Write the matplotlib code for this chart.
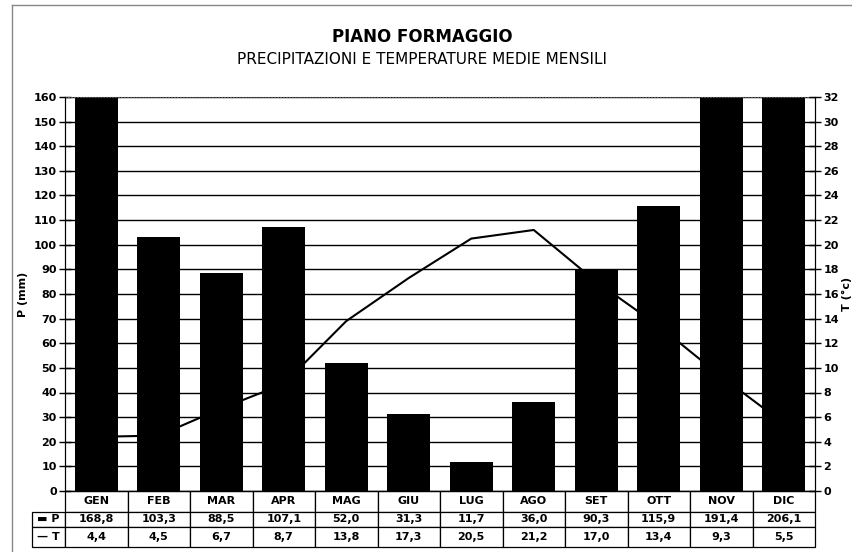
import matplotlib
matplotlib.use("Agg")
import matplotlib.pyplot as plt
from matplotlib.lines import Line2D

# Dati mensili (Piano Formaggio)
mesi = ["GEN", "FEB", "MAR", "APR", "MAG", "GIU", "LUG", "AGO", "SET", "OTT", "NOV", "DIC"]
prec = [168.8, 103.3, 88.5, 107.1, 52.0, 31.3, 11.7, 36.0, 90.3, 115.9, 191.4, 206.1]
temp = [4.4, 4.5, 6.7, 8.7, 13.8, 17.3, 20.5, 21.2, 17.0, 13.4, 9.3, 5.5]
p_ticks = list(range(0, 161, 10))
t_ticks = list(range(0, 33, 2))


def virgola(v):
    return f"{v:.1f}".replace(".", ",")


W, H = 852, 552
fig = plt.figure(figsize=(W / 100, H / 100), dpi=100)
plt.rcParams["font.family"] = ["DejaVu Sans"]

# area del grafico in pixel: x 65-815, y 97-491
ax = fig.add_axes([65 / W, (H - 491) / H, 750 / W, 394 / H])
x = list(range(len(mesi)))
ax.bar(x, prec, width=0.69, color="black", zorder=2)
ax.set_xlim(-0.5, len(mesi) - 0.5)
ax.set_ylim(0, 160)
ax.set_yticks(p_ticks)
ax.set_yticklabels([str(v) for v in p_ticks], fontsize=8, fontweight="bold")
ax.set_xticks([])
ax.tick_params(axis="y", direction="inout", length=8, width=1, pad=2)
ax.yaxis.grid(True, color="black", linewidth=1)
ax.set_axisbelow(True)
ax.set_ylabel("P (mm)", fontsize=8, fontweight="bold", labelpad=4)
ax.spines["top"].set_linestyle(":")
ax.spines["top"].set_color("#555555")

ax2 = ax.twinx()
ax2.plot(x, temp, color="black", linewidth=1.5, zorder=3)
ax2.set_ylim(0, 32)
ax2.set_yticks(t_ticks)
ax2.set_yticklabels([str(v) for v in t_ticks], fontsize=8, fontweight="bold")
ax2.tick_params(axis="y", direction="inout", length=8, width=1, pad=2)
ax2.set_ylabel("T (°c)", fontsize=8, fontweight="bold", labelpad=2)
ax2.spines["top"].set_visible(False)

# tabella dei valori sotto il grafico
righe = [["\u25ac P"] + [virgola(v) for v in prec],
         ["\u2014 T"] + [virgola(v) for v in temp]]
larg = [33 / 750] + [1 / 12] * 12
tbl = ax.table(cellText=righe, colLabels=[""] + mesi, colWidths=larg,
               cellLoc="center", loc="bottom",
               bbox=[-33 / 750, -56 / 394, 783 / 750, 56 / 394])
tbl.auto_set_font_size(False)
tbl.set_fontsize(8)
altezze = {0: 21, 1: 15, 2: 20}
for (r, c), cell in tbl.get_celld().items():
    cell.set_height(altezze[r])
    cell.set_linewidth(0.9)
    cell.get_text().set_fontweight("bold")
    if r == 0 and c == 0:
        cell.visible_edges = "open"

# titoli
fig.text(422 / W, 1 - 37 / H, "PIANO FORMAGGIO", ha="center", va="center",
         fontsize=12, fontweight="bold")
fig.text(422 / W, 1 - 60 / H, "PRECIPITAZIONI E TEMPERATURE MEDIE MENSILI",
         ha="center", va="center", fontsize=11)

# cornice esterna
fig.add_artist(Line2D([12 / W, 12 / W], [0, 1 - 5 / H], color="#888888", linewidth=1))
fig.add_artist(Line2D([12 / W, 1], [1 - 5 / H, 1 - 5 / H], color="#888888", linewidth=1))

fig.savefig("out.png", dpi=100)
plt.close(fig)
